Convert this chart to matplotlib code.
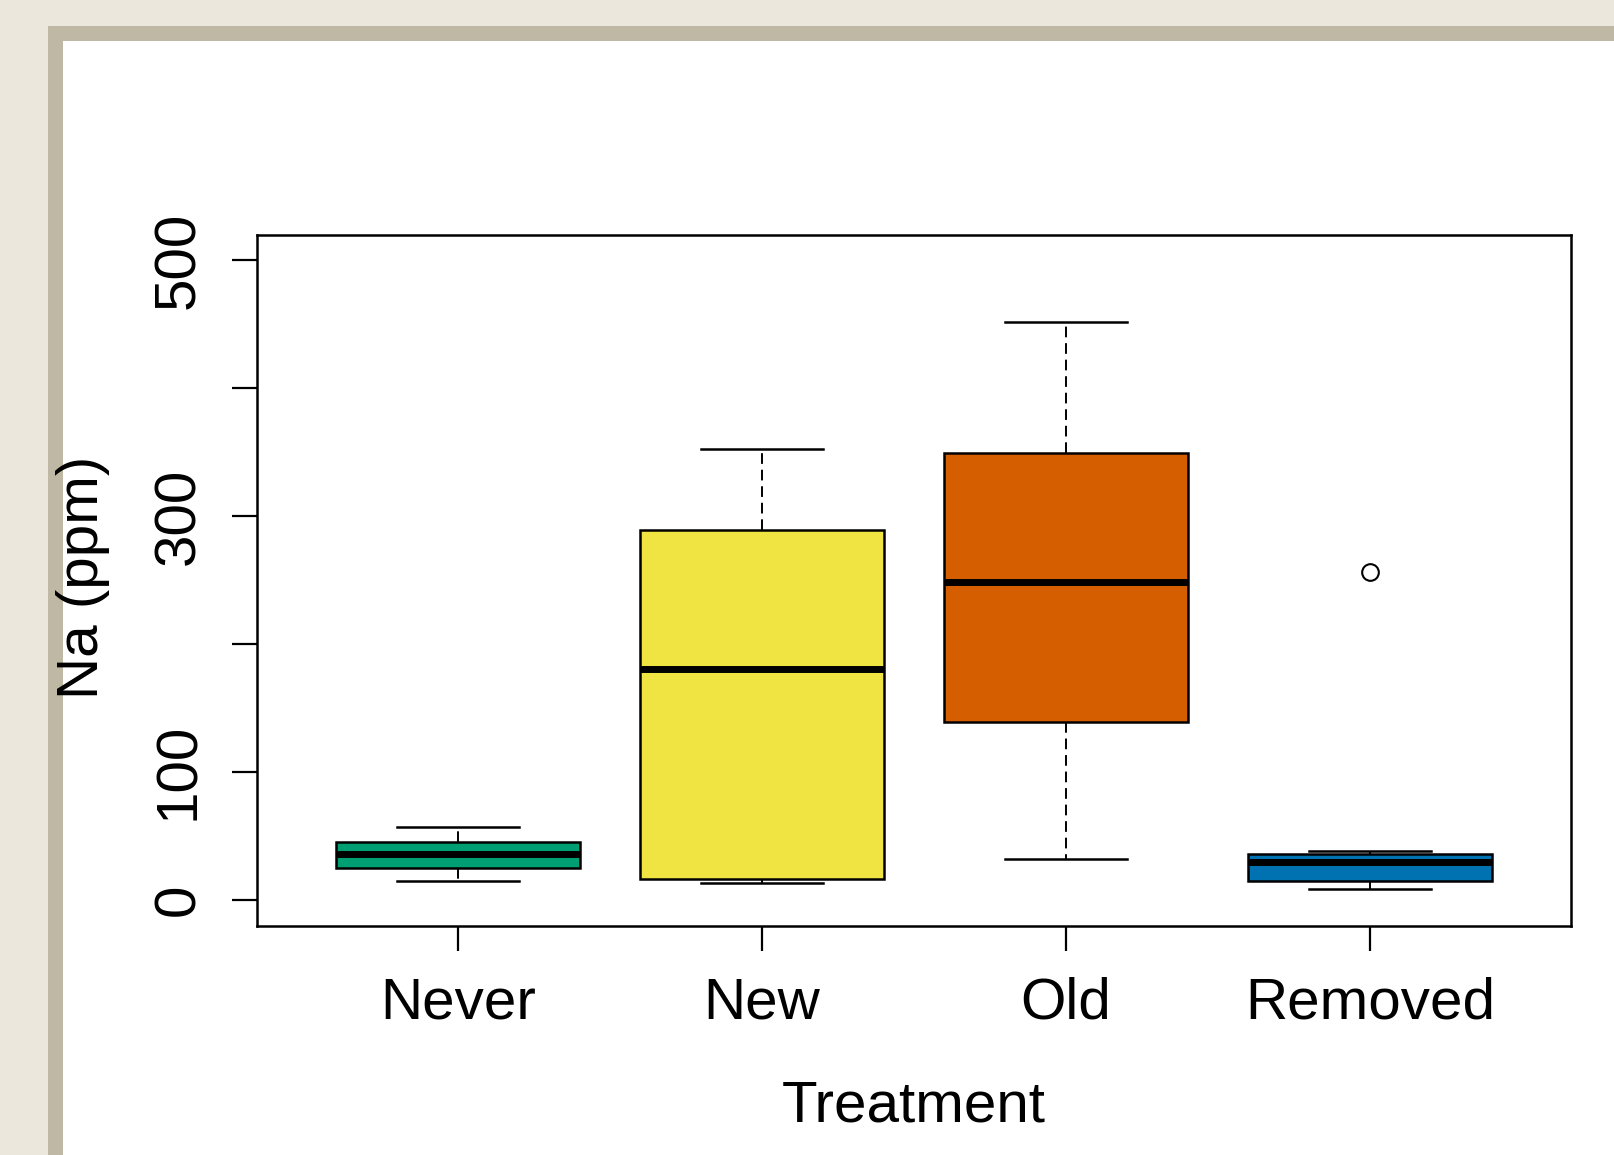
import matplotlib
matplotlib.use('Agg')
import matplotlib.pyplot as plt
from matplotlib.patches import Rectangle

# box statistics (ppm)
treatments = ['Never', 'New', 'Old', 'Removed']
whisker_lo = [14.5, 13, 31.5, 8]
q1 = [25, 16, 139, 14.5]
medians = [35.5, 180.5, 248, 29]
q3 = [45, 289, 349.5, 36]
whisker_hi = [56.5, 352, 451.5, 38]
outliers = [[], [], [], [256]]
colors = ['#009E73', '#F0E442', '#D55E00', '#0072B2']

W, H = 1614, 1155
plt.rcParams['font.family'] = ['Liberation Sans', 'DejaVu Sans']

fig = plt.figure(figsize=(W / 100, H / 100), dpi=100, facecolor='#EBE7DC')

# window-like frame around the plotting area
fig.patches.append(Rectangle((48 / W, 0), 1, 1 - 26 / H, transform=fig.transFigure,
                             facecolor='#BFB8A5', edgecolor='none', zorder=-10))
fig.patches.append(Rectangle((63 / W, 0), 1, 1 - 41 / H, transform=fig.transFigure,
                             facecolor='white', edgecolor='none', zorder=-9))

ax = fig.add_axes([257.3 / W, 1 - 926.4 / H, 1313.4 / W, 691.7 / H])
ax.set_facecolor('none')

stats = []
for i, name in enumerate(treatments):
    stats.append(dict(label=name, whislo=whisker_lo[i], q1=q1[i], med=medians[i],
                      q3=q3[i], whishi=whisker_hi[i], fliers=outliers[i]))

bp = ax.bxp(stats, positions=range(1, len(treatments) + 1), widths=0.8,
            patch_artist=True, capwidths=0.4,
            boxprops=dict(linewidth=1.8, edgecolor='black'),
            medianprops=dict(color='black', linewidth=5, solid_capstyle='butt'),
            whiskerprops=dict(color='black', linewidth=1.4, linestyle=(0, (5.5, 3))),
            capprops=dict(color='black', linewidth=1.8),
            flierprops=dict(marker='o', markerfacecolor='none', markeredgecolor='black',
                            markersize=12, markeredgewidth=1.5))
for patch, c in zip(bp['boxes'], colors):
    patch.set_facecolor(c)

ax.set_xlim(0.34, 4.66)
ax.set_ylim(-21, 520)

ax.set_yticks([0, 100, 200, 300, 400, 500])
ax.set_yticklabels(['0', '100', '', '300', '', '500'], rotation=90, va='center')
ax.tick_params(axis='both', length=18, width=1.6, labelsize=42, color='black')
ax.tick_params(axis='y', pad=19)
ax.tick_params(axis='x', pad=18)

for s in ax.spines.values():
    s.set_linewidth(1.8)

ax.set_ylabel('Na (ppm)', fontsize=42, va='center')
ax.yaxis.set_label_coords(-0.133, 0.504)
ax.set_xlabel('Treatment', fontsize=42, va='center')
ax.xaxis.set_label_coords(0.5, -0.26)

fig.savefig('out.png', dpi=100, facecolor=fig.get_facecolor())
